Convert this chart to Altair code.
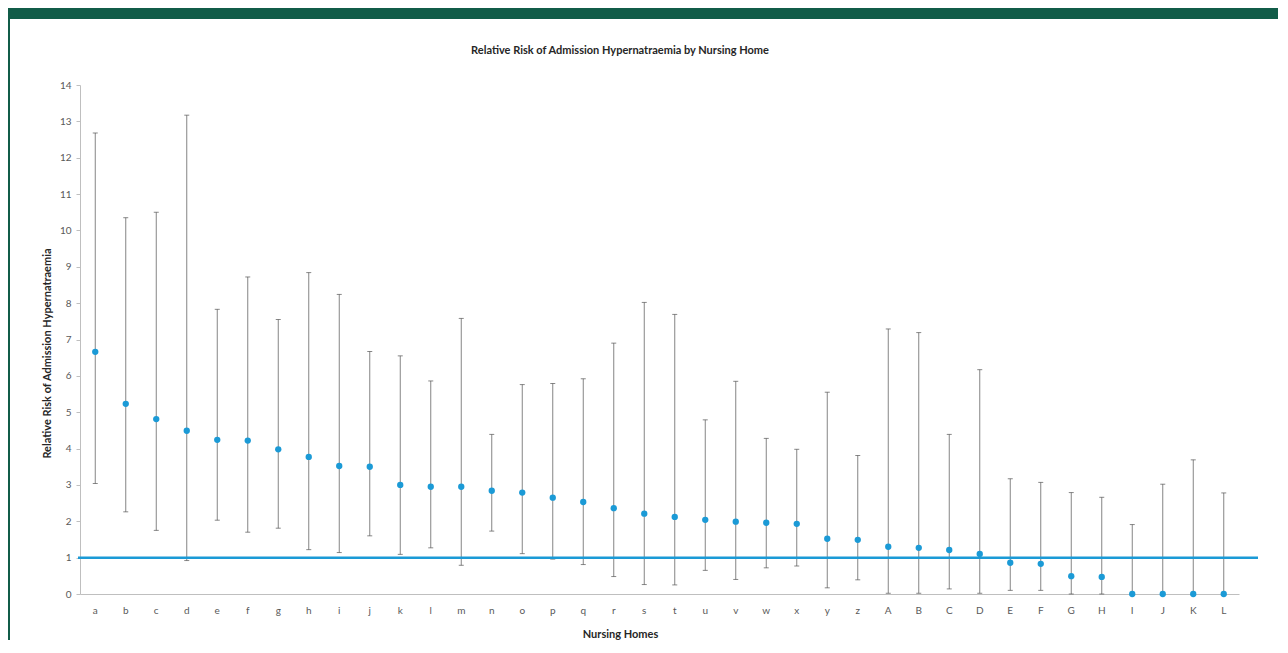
import altair as alt
import pandas as pd

homes = list("abcdefghijklmnopqrstuvwxyz") + list("ABCDEFGHIJKL")
rr = [6.66, 5.23, 4.81, 4.49, 4.24, 4.22, 3.98, 3.77, 3.52, 3.50, 3.00, 2.95,
      2.95, 2.84, 2.79, 2.65, 2.53, 2.36, 2.21, 2.12, 2.04, 1.99, 1.96, 1.93,
      1.52, 1.49, 1.30, 1.27, 1.21, 1.10, 0.86, 0.83, 0.49, 0.47, 0.0, 0.0, 0.0, 0.0]
lower = [3.04, 2.26, 1.75, 0.92, 2.03, 1.70, 1.81, 1.22, 1.14, 1.60, 1.09, 1.27,
         0.79, 1.73, 1.11, 0.96, 0.81, 0.48, 0.26, 0.25, 0.65, 0.40, 0.72, 0.77,
         0.17, 0.39, 0.02, 0.02, 0.14, 0.02, 0.10, 0.10, 0.0, 0.0, 0.0, 0.0, 0.0, 0.0]
upper = [12.68, 10.35, 10.50, 13.17, 7.83, 8.72, 7.55, 8.84, 8.24, 6.67, 6.55, 5.86,
         7.58, 4.39, 5.76, 5.79, 5.92, 6.90, 8.02, 7.69, 4.79, 5.85, 4.28, 3.98,
         5.55, 3.81, 7.29, 7.19, 4.39, 6.17, 3.17, 3.07, 2.79, 2.66, 1.91, 3.02, 3.69, 2.78]
reference = 1.0
y_ticks = list(range(0, 15))

df = pd.DataFrame({"home": homes, "rr": rr, "lo": lower, "hi": upper})

FONT = "Lato"
W, H = 1159, 509

x_axis = alt.Axis(title="Nursing Homes", labelAngle=0, ticks=False,
                  labelPadding=11, labelFontSize=10, labelColor="#595959",
                  labelFont=FONT, domainColor="#bfbfbf",
                  titleFont=FONT, titleFontSize=11, titleFontWeight="bold",
                  titleColor="#262626", titleX=540, titleY=40,
                  titleBaseline="middle", titleAlign="center")
x_scale = alt.Scale(paddingInner=0, paddingOuter=0)
y_axis = alt.Axis(title="Relative Risk of Admission Hypernatraemia",
                  values=y_ticks, grid=False, tickSize=4, tickCount=15,
                  labelOverlap=False,
                  tickColor="#bfbfbf", domainColor="#bfbfbf",
                  labelPadding=5, labelFontSize=10, labelColor="#595959",
                  labelFont=FONT, titleFont=FONT, titleFontSize=11,
                  titleFontWeight="bold", titleColor="#262626",
                  titleAngle=270, titleX=-33, titleY=268,
                  titleAlign="center", titleBaseline="middle")
y_scale = alt.Scale(domain=[0, 14], nice=False)


def X():
    return alt.X("home:N", sort=homes, scale=x_scale, axis=x_axis)


def Y(field):
    return alt.Y(field, type="quantitative", scale=y_scale, axis=y_axis)


base = alt.Chart(df)

bars = base.mark_rule(color="#858585", strokeWidth=1).encode(
    x=X(), y=Y("lo"), y2="hi:Q")
cap_lo = base.mark_tick(color="#555555", thickness=1, size=5).encode(x=X(), y=Y("lo"))
cap_hi = base.mark_tick(color="#555555", thickness=1, size=5).encode(x=X(), y=Y("hi"))

refline = alt.Chart(pd.DataFrame({"ref": [reference]})).mark_rule(
    color="#1b9ad6", strokeWidth=2.5, clip=False).encode(
    y=Y("ref"), x=alt.value(-2), x2=alt.value(1178))

points = base.mark_circle(color="#1b9ad6", opacity=1, size=40).encode(x=X(), y=Y("rr"))

title = alt.Chart(pd.DataFrame({"t": ["Relative Risk of Admission Hypernatraemia by Nursing Home"]})).mark_text(
    font=FONT, fontSize=11, fontWeight="bold", color="#262626",
    align="center", baseline="middle").encode(
    text="t:N", x=alt.value(540), y=alt.value(-34))

header = alt.Chart(pd.DataFrame({"k": [0]})).mark_rect(color="#115c48", clip=False).encode(
    x=alt.value(-72), x2=alt.value(1198), y=alt.value(-77), y2=alt.value(-66))
border = alt.Chart(pd.DataFrame({"k": [0]})).mark_rect(color="#115c48", clip=False).encode(
    x=alt.value(-72), x2=alt.value(-70), y=alt.value(-66), y2=alt.value(560))

chart = alt.layer(header, border, bars, cap_lo, cap_hi, refline, points, title).properties(
    width=W, height=H,
    padding={"left": 72, "top": 77, "right": 39, "bottom": 46},
    autosize=alt.AutoSizeParams(type="none"),
).configure_view(stroke=None)

chart.save("out.html", embed_options={"renderer": "svg", "actions": False})
